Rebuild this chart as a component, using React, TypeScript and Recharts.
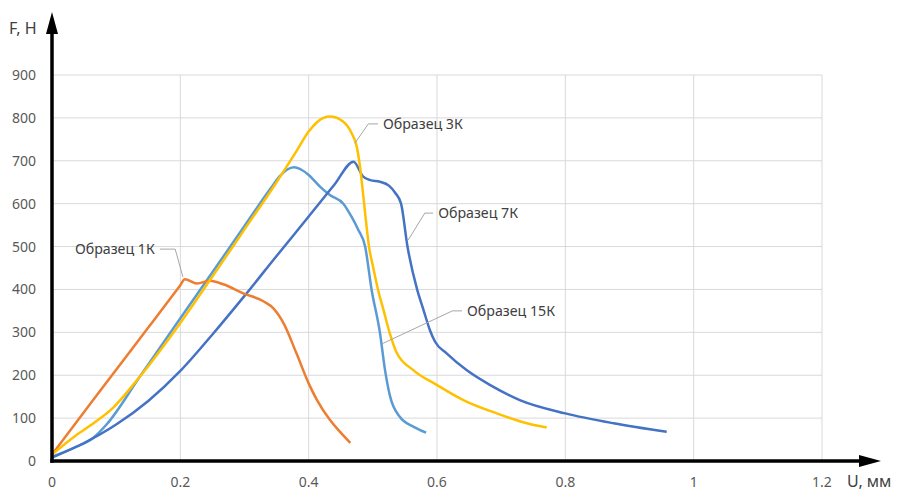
import React from 'react';
import { LineChart, Line, XAxis, YAxis, CartesianGrid, ReferenceLine, ReferenceDot } from 'recharts';

// Axis ticks
const uTicks = [0, 0.2, 0.4, 0.6, 0.8, 1, 1.2];
const fTicks = [0, 100, 200, 300, 400, 500, 600, 700, 800, 900];

// Series: [U, mm ; F, N]
const sample1K: [number, number][] = [
  [0, 15], [0.05, 114], [0.1, 213], [0.15, 311], [0.19, 390], [0.2, 410], [0.207, 424],
  [0.226, 414], [0.246, 420], [0.267, 412], [0.298, 391], [0.33, 372], [0.345, 356], [0.361, 321],
  [0.381, 251], [0.4, 181], [0.413, 142], [0.433, 96], [0.45, 66], [0.465, 42],
];

const sample15K: [number, number][] = [
  [0, 10], [0.033, 30], [0.065, 55], [0.085, 85], [0.137, 197], [0.2, 333], [0.25, 440],
  [0.3, 548], [0.34, 634], [0.355, 664], [0.366, 679], [0.377, 685], [0.39, 678], [0.4, 667],
  [0.418, 639], [0.433, 620], [0.454, 600], [0.467, 569], [0.477, 540], [0.488, 500], [0.498, 400],
  [0.511, 300], [0.519, 212], [0.527, 150], [0.542, 103], [0.563, 80], [0.583, 66],
];

const sample3K: [number, number][] = [
  [0, 15], [0.033, 55], [0.059, 82], [0.095, 124], [0.137, 197], [0.2, 322], [0.25, 430],
  [0.3, 540], [0.35, 650], [0.38, 720], [0.4, 768], [0.413, 790], [0.433, 803], [0.454, 791],
  [0.467, 764], [0.475, 733], [0.48, 686], [0.485, 620], [0.49, 550], [0.494, 500], [0.5, 455],
  [0.508, 400], [0.517, 350], [0.526, 300], [0.537, 253], [0.563, 212], [0.6, 177], [0.641, 142],
  [0.693, 111], [0.74, 88], [0.771, 78],
];

const sample7K: [number, number][] = [
  [0, 8], [0.05, 42], [0.1, 85], [0.15, 140], [0.2, 210], [0.25, 295], [0.3, 385], [0.35, 478],
  [0.4, 570], [0.44, 644], [0.47, 698], [0.485, 663], [0.496, 655], [0.511, 651], [0.525, 642],
  [0.535, 625], [0.544, 600], [0.554, 500], [0.569, 400], [0.579, 352], [0.589, 305], [0.597, 278],
  [0.615, 251], [0.646, 212], [0.683, 177], [0.729, 142], [0.8, 111], [0.875, 88], [0.958, 68],
];

// Callouts: label name, leader-line points in data coordinates, label side
const callouts = [
  { name: 'Образец 1К', pts: [[0.168, 494], [0.192, 494], [0.204, 429]], side: 'left' },
  { name: 'Образец 3К', pts: [[0.508, 786], [0.493, 786], [0.472, 741]], side: 'right' },
  { name: 'Образец 7К', pts: [[0.594, 578], [0.581, 578], [0.555, 515]], side: 'right' },
  { name: 'Образец 15К', pts: [[0.639, 350], [0.624, 350], [0.514, 273]], side: 'right' },
];

const toPts = (a: [number, number][]) => a.map(([u, f]) => ({ u, f }));

const series = [
  { key: '15K', color: '#5B9BD5', data: toPts(sample15K) },
  { key: '7K', color: '#4472C4', data: toPts(sample7K) },
  { key: '1K', color: '#ED7D31', data: toPts(sample1K) },
  { key: '3K', color: '#FFC000', data: toPts(sample3K) },
];

const FONT = '"Noto Sans", "Open Sans", sans-serif';

export default function App() {
  return (
    <div style={{ position: 'absolute', left: 0, top: 0, width: 901, height: 489, background: '#fff', fontFamily: FONT }}>
      <LineChart width={901} height={489} margin={{ top: 75, right: 79, bottom: 0, left: 0 }}>
        <CartesianGrid stroke="#d9d9d9" strokeWidth={1} />
        <XAxis
          type="number"
          dataKey="u"
          domain={[0, 1.2]}
          ticks={uTicks}
          height={28}
          axisLine={false}
          tickLine={false}
          tickSize={0}
          tickMargin={16}
          tick={{ fill: '#595959', fontSize: 14, fontFamily: FONT }}
          tickFormatter={(v: number) => String(v)}
          allowDataOverflow
        />
        <YAxis
          type="number"
          dataKey="f"
          domain={[0, 900]}
          ticks={fTicks}
          width={52}
          axisLine={false}
          tickLine={false}
          tickSize={0}
          tickMargin={16}
          tick={{ fill: '#595959', fontSize: 14, fontFamily: FONT }}
          allowDataOverflow
        />
        {series.map((s) => (
          <Line
            key={s.key}
            data={s.data}
            dataKey="f"
            type="monotone"
            stroke={s.color}
            strokeWidth={2.5}
            dot={false}
            activeDot={false}
            isAnimationActive={false}
          />
        ))}
        {callouts.map((c) =>
          c.pts.slice(0, -1).map((p, i) => (
            <ReferenceLine
              key={c.name + i}
              segment={[{ x: p[0], y: p[1] }, { x: c.pts[i + 1][0], y: c.pts[i + 1][1] }]}
              stroke="#a6a6a6"
              strokeWidth={1}
              ifOverflow="visible"
            />
          ))
        )}
        {callouts.map((c) => (
          <ReferenceDot
            key={'lbl' + c.name}
            x={c.pts[0][0]}
            y={c.pts[0][1]}
            r={0}
            fill="none"
            stroke="none"
            ifOverflow="visible"
            label={{
              value: c.name,
              position: c.side as any,
              offset: 5,
              fill: '#404040',
              fontSize: 14.2,
              fontFamily: FONT,
            }}
          />
        ))}
      </LineChart>
      <svg width={901} height={489} style={{ position: 'absolute', left: 0, top: 0, pointerEvents: 'none' }}>
        <line x1={52} y1={462.7} x2={52} y2={30} stroke="#000" strokeWidth={3.5} />
        <polygon points="52,12 46,34 58,34" fill="#000" />
        <line x1={50.3} y1={461} x2={862} y2={461} stroke="#000" strokeWidth={3.5} />
        <polygon points="881,461 859,455 859,467" fill="#000" />
        <text x={9} y={34} fontSize={16} fill="#404040" fontFamily={FONT}>F, Н</text>
        <text x={847} y={487} fontSize={16} fill="#404040" fontFamily={FONT}>U, мм</text>
      </svg>
    </div>
  );
}
